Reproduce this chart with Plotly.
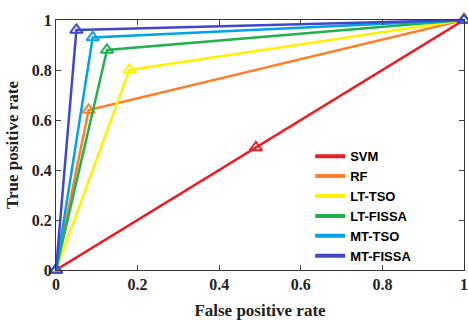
import plotly.graph_objects as go

names = ["SVM", "RF", "LT-TSO", "LT-FISSA", "MT-TSO", "MT-FISSA"]
fpr = [
    [0, 0.49, 1],
    [0, 0.08, 1],
    [0, 0.18, 1],
    [0, 0.125, 1],
    [0, 0.09, 1],
    [0, 0.05, 1],
]
tpr = [
    [0, 0.49, 1],
    [0, 0.64, 1],
    [0, 0.80, 1],
    [0, 0.88, 1],
    [0, 0.93, 1],
    [0, 0.96, 1],
]
colors = ["#ED1C24", "#FF7F27", "#FFF200", "#22B14C", "#00A2E8", "#3F48CC"]
ticks = [0, 0.2, 0.4, 0.6, 0.8, 1]
tick_text = ["0", "0.2", "0.4", "0.6", "0.8", "1"]

fig = go.Figure()
for n, x, y, c in zip(names, fpr, tpr, colors):
    fig.add_trace(go.Scatter(
        x=x, y=y, mode="lines+markers", showlegend=False,
        line=dict(color=c, width=2.5),
        marker=dict(symbol="triangle-up-open", size=11, color=c, line=dict(width=2, color=c)),
        cliponaxis=False,
    ))
for n, c in zip(names, colors):
    fig.add_trace(go.Scatter(
        x=[None], y=[None], mode="lines", name=n,
        line=dict(color=c, width=4),
    ))

serif = dict(family="Liberation Serif", size=16, color="#222", weight="bold")
title_font = dict(family="Liberation Serif", size=17, color="#222", weight="bold")
fig.update_layout(
    width=468, height=320,
    margin=dict(l=56, r=4, t=20, b=50),
    paper_bgcolor="white", plot_bgcolor="white",
    xaxis=dict(range=[0, 1], tickvals=ticks, ticktext=tick_text, ticks="inside", ticklen=5,
               showline=True, linecolor="#333", linewidth=1, mirror="ticks", showgrid=False,
               zeroline=False, tickfont=serif, automargin=False, ticklabeloverflow="allow",
               title=dict(text="False positive rate", font=title_font, standoff=14)),
    yaxis=dict(range=[0, 1], tickvals=ticks, ticktext=tick_text, ticks="inside", ticklen=5,
               showline=True, linecolor="#333", linewidth=1, mirror="ticks", showgrid=False,
               zeroline=False, tickfont=serif, automargin=False,
               title=dict(text="True positive rate", font=title_font, standoff=8)),
    legend=dict(x=0.623, y=0.515, xanchor="left", yanchor="top", bgcolor="rgba(0,0,0,0)",
                font=dict(family="Liberation Sans", size=13, color="black", weight="bold"),
                itemwidth=30, tracegroupgap=0),
)
fig.write_html("out.html", config={"displayModeBar": False},
               post_script="document.body.style.margin='0';document.body.style.overflow='hidden';")
